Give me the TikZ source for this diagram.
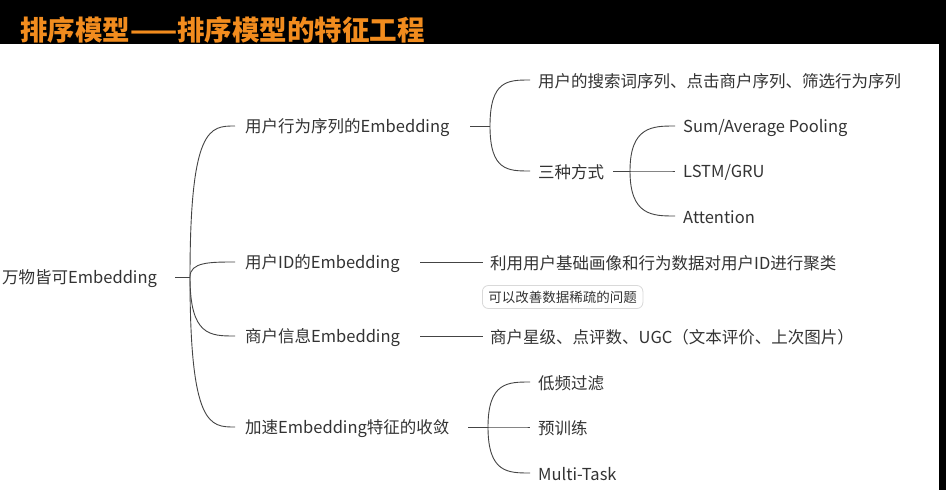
\documentclass[tikz,border=0pt]{standalone}
\usepackage{fontspec}
\setmainfont{Noto Sans CJK SC}
\definecolor{tx}{HTML}{333333}
\definecolor{ln}{HTML}{444444}
\definecolor{ttl}{HTML}{F28C1E}
\begin{document}
\begin{tikzpicture}[x=1pt,y=-1pt,
  lbl/.style={anchor=west,inner sep=0pt,text=tx,font=\fontsize{16.5}{17}\selectfont,yshift=-1.5pt},
  wire/.style={draw=ln,line width=0.9pt},
  ]
\useasboundingbox (0,0) rectangle (946,490);
\fill[white] (0,0) rectangle (946,490);
\fill[black] (0,0) rectangle (946,44);
\fill[black] (939,44) rectangle (946,490);
\node[anchor=west,inner sep=0pt,text=ttl,font=\fontsize{27.5}{28}\selectfont\bfseries] (title) at (20,30) {排序模型——排序模型的特征工程};

\node[lbl] (root) at (2,277) {万物皆可Embedding};
\node[lbl] (b1) at (245,126) {用户行为序列的Embedding};
\node[lbl] (b2) at (245,262) {用户ID的Embedding};
\node[lbl] (b3) at (245,336) {商户信息Embedding};
\node[lbl] (b4) at (245,427) {加速Embedding特征的收敛};

\node[lbl] (c11) at (538,80) {用户的搜索词序列、点击商户序列、筛选行为序列};
\node[lbl] (c12) at (538,171) {三种方式};
\node[lbl] (d1) at (683,126) {Sum/Average Pooling};
\node[lbl] (d2) at (683,171) {LSTM/GRU};
\node[lbl] (d3) at (683,216) {Attention};
\node[lbl] (c21) at (490,262) {利用用户基础画像和行为数据对用户ID进行聚类};
\node[draw=black!15,rounded corners=6pt,line width=0.8pt,inner xsep=6pt,minimum height=23pt,text=tx,font=\fontsize{13.5}{14}\selectfont,anchor=west] (note) at (482,297) {可以改善数据稀疏的问题};
\node[lbl] (c31) at (490,336) {商户星级、点评数、UGC（文本评价、上次图片）};
\node[lbl] (c41) at (538,382) {低频过滤};
\node[lbl] (c42) at (538,427) {预训练};
\node[lbl] (c43) at (538,473) {Multi-Task};

\coordinate (j0) at (190,277);
\coordinate (j1) at (490,126);
\coordinate (j12) at (630,171);
\coordinate (j4) at (488,427);

\draw[wire] (175,277) -- (j0);
\foreach \b/\y in {b1/126,b2/262,b3/336,b4/427}
  \draw[wire] (j0) .. controls (190,\y) and (210,\y) .. (235,\y);
\draw[wire] (470,126) -- (j1);
\foreach \y in {80,171}
  \draw[wire] (j1) .. controls (490,\y) and (508,\y) .. (530,\y);
\draw[wire] (613,171) -- (j12);
\foreach \y in {126,171,216}
  \draw[wire] (j12) .. controls (630,\y) and (653,\y) .. (675,\y);
\draw[wire] (420,262) -- (483,262);
\draw[wire] (420,336) -- (483,336);
\draw[wire] (468,427) -- (j4);
\foreach \y in {382,427,473}
  \draw[wire] (j4) .. controls (488,\y) and (508,\y) .. (530,\y);
\end{tikzpicture}
\end{document}
